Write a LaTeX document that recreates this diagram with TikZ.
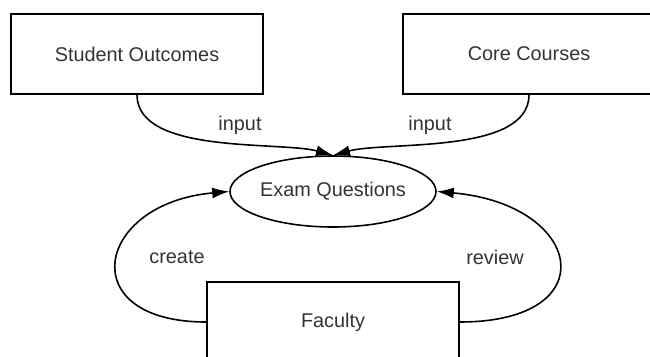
\documentclass[tikz,border=0pt]{standalone}
\usepackage{fontspec}
\setmainfont{Liberation Sans}
\usetikzlibrary{arrows.meta,shapes.geometric}
\definecolor{TextClr}{rgb}{0.2,0.2,0.2}

\begin{document}
\begin{tikzpicture}[line width=0.9pt,
  every node/.style={font=\fontsize{11.3}{13}\selectfont,text=TextClr},
  block/.style={draw,rectangle,minimum width=5.04cm,minimum height=1.6cm,inner sep=0},
  flow/.style={-{Latex[length=3.4mm,width=2.2mm]}}]
\useasboundingbox (0,0) rectangle (13,7.12);

\node[block] (outcomes) at (2.74,6.04) {Student Outcomes};
\node[block] (courses) at (10.58,6.04) {Core Courses};
\node[block] (faculty) at (6.66,0.68) {Faculty};

\node[draw,ellipse,minimum width=3.84cm,minimum height=1.42cm,inner sep=0] (exam) at (6.66,3.29) {Exam Questions};

\draw[flow] (outcomes.south) to[out=-90,in=165,out distance=1.2cm,in distance=1.1cm] (exam.north);
\draw[flow] (courses.south) to[out=-90,in=15,out distance=1.2cm,in distance=1.1cm] (exam.north);
\draw[flow] (faculty.west) to[out=180,in=185,looseness=2.6] (exam.west);
\draw[flow] (faculty.east) to[out=0,in=-5,looseness=2.85] (exam.east);

\node (in1) at (4.8,4.62) {input};
\node (in2) at (8.6,4.62) {input};
\node (create) at (3.54,1.98) {create};
\node (review) at (9.9,1.98) {review};

\end{tikzpicture}
\end{document}
